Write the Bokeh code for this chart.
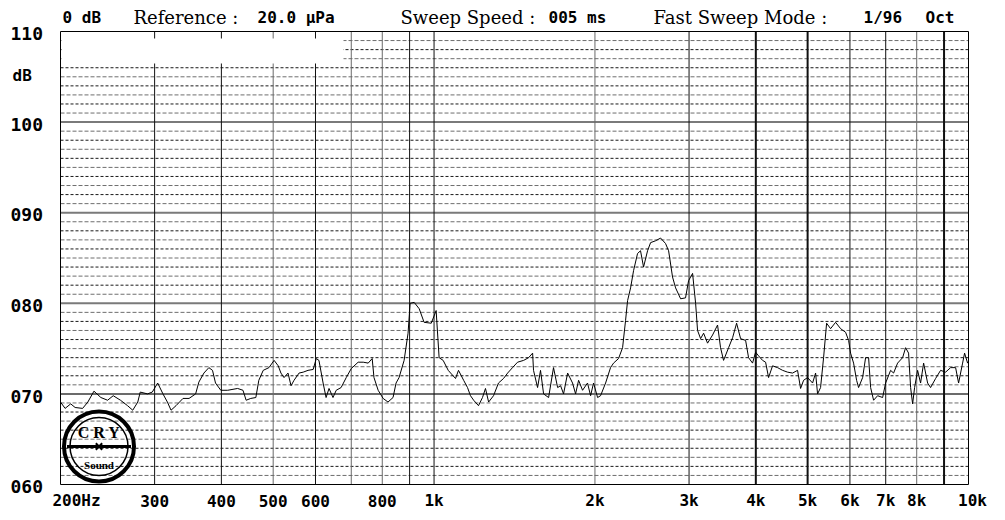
from bokeh.plotting import figure
from bokeh.models import Range1d
from bokeh.core.properties import value
from bokeh.embed import file_html
from bokeh.resources import INLINE

# ---------------- data ----------------
freq_hz = [200, 204, 209, 213, 220, 225, 231, 238, 245, 251, 259, 267, 273, 279, 282, 291, 297,
           304, 311, 317, 322, 329, 339, 348, 358, 363, 371, 379, 385, 390, 399, 411, 429, 439,
           445, 454, 464, 470, 479, 491, 502, 511, 517, 524, 533, 540, 547, 559, 569, 581, 594,
           602, 609, 620, 628, 636, 647, 656, 670, 685, 700, 721, 737, 753, 766, 772, 786, 803,
           820, 838, 849, 860, 879, 894, 902, 918, 938, 958, 988, 1009, 1022, 1040, 1063, 1074,
           1097, 1111, 1136, 1155, 1170, 1186, 1211, 1232, 1248, 1265, 1292, 1320, 1349, 1373,
           1402, 1433, 1471, 1503, 1529, 1535, 1562, 1582, 1603, 1638, 1673, 1703, 1725, 1747,
           1778, 1816, 1840, 1864, 1896, 1937, 1963, 1988, 2023, 2049, 2094, 2139, 2167, 2214,
           2253, 2282, 2302, 2332, 2362, 2403, 2434, 2466, 2509, 2542, 2597, 2654, 2711, 2747,
           2794, 2831, 2893, 2955, 2994, 3046, 3086, 3112, 3153, 3194, 3249, 3320, 3392, 3436,
           3481, 3557, 3619, 3682, 3746, 3828, 3877, 3944, 3996, 4048, 4118, 4172, 4226, 4299,
           4393, 4489, 4586, 4686, 4788, 4851, 4914, 4999, 5108, 5175, 5219, 5287, 5356, 5426,
           5520, 5641, 5763, 5889, 5966, 6017, 6095, 6175, 6228, 6337, 6419, 6503, 6559, 6644,
           6760, 6907, 6997, 7149, 7242, 7368, 7529, 7626, 7725, 7793, 7860, 7928, 8031, 8135,
           8242, 8385, 8493, 8679, 8867, 9061, 9258, 9460, 9582, 9749, 9833, 9961, 10000]
level_db = [69.1, 68.4, 68.9, 68.5, 68.4, 69.1, 70.3, 69.6, 69.3, 69.8, 69.3, 68.7, 68.2, 69.1, 70.2, 70.0, 70.2,
            71.2, 70.0, 69.1, 68.2, 68.7, 69.5, 69.5, 70.0, 71.3, 72.3, 72.9, 72.6, 71.2, 70.4, 70.4, 70.6, 70.4,
            69.3, 69.5, 69.6, 71.5, 72.6, 72.9, 73.7, 73.1, 72.3, 71.8, 72.3, 70.9, 71.5, 72.3, 72.4, 72.6, 72.7,
            73.9, 73.7, 71.2, 69.6, 70.6, 69.6, 70.4, 70.7, 71.8, 72.8, 73.5, 73.5, 73.4, 73.9, 71.8, 70.4, 69.5,
            69.1, 69.6, 71.2, 71.8, 73.7, 76.7, 80.0, 80.1, 79.4, 77.9, 77.8, 79.2, 74.0, 73.7, 72.6, 72.3,
            71.7, 72.6, 71.5, 70.7, 69.8, 69.3, 68.7, 69.6, 70.6, 69.1, 69.8, 71.2, 71.7, 72.3,
            72.9, 73.5, 73.7, 74.0, 74.5, 72.6, 70.7, 72.6, 70.0, 69.6, 72.9, 70.7, 70.9, 70.0,
            72.3, 71.2, 70.0, 71.5, 70.4, 71.2, 69.8, 71.2, 69.6, 69.8, 71.2, 72.9, 73.4, 73.9,
            75.1, 78.1, 80.3, 81.7, 83.6, 85.5, 85.8, 84.0, 85.8, 86.7, 86.9, 87.2, 86.6, 85.8,
            82.9, 81.7, 80.5, 80.6, 82.5, 83.3, 80.0, 77.0, 76.1, 76.7, 75.6, 76.5, 77.6, 75.1,
            73.7, 75.1, 76.2, 77.8, 76.1, 75.9, 74.0, 73.4, 74.6, 74.2, 73.7, 73.5, 71.8, 73.1,
            72.9, 72.6, 72.4, 72.3, 72.6, 70.6, 71.5, 71.8, 71.2, 72.3, 70.0, 70.7, 74.0, 77.8,
            77.2, 77.9, 77.2, 76.8, 75.9, 74.5, 73.4, 71.5, 70.7, 71.8, 74.0, 74.0, 70.7, 69.3,
            69.8, 69.6, 71.2, 72.6, 72.3, 73.4, 74.0, 75.1, 74.5, 70.7, 68.9, 70.7, 72.6, 71.2,
            73.4, 71.2, 70.7, 71.7, 72.6, 72.4, 72.9, 72.9, 71.2, 73.4, 74.5, 73.4, 73.6]

x_ticks = [200, 300, 400, 500, 600, 800, 1000, 2000, 3000, 4000, 5000, 6000, 7000, 8000, 10000]
x_tick_labels = ["200Hz", "300", "400", "500", "600", "800", "1k", "2k", "3k", "4k",
                 "5k", "6k", "7k", "8k", "10k"]
v_grid_freqs = [300, 400, 500, 600, 700, 800, 900, 1000, 2000, 3000, 4000, 5000,
                6000, 7000, 8000, 9000]
y_ticks = [60, 70, 80, 90, 100, 110]
y_tick_labels = ["060", "070", "080", "090", "100", "110"]

F_MIN, F_MAX = 200, 10000
DB_MIN, DB_MAX = 60, 110

# ---------------- layout (picture pixels) ----------------
W, H = 997, 512
FX0, FX1, FY0, FY1 = 60, 968, 31, 484   # where the chart box sits


def px_to_data(X, Y):
    fx = (X - FX0) / (FX1 - FX0)
    fy = (Y - FY0) / (FY1 - FY0)
    return F_MIN * (F_MAX / F_MIN) ** fx, DB_MAX - fy * (DB_MAX - DB_MIN)


x_lo, y_hi = px_to_data(0, 0)
x_hi, y_lo = px_to_data(W, H)

p = figure(width=W, height=H, x_axis_type="log", title=None,
           x_range=Range1d(x_lo, x_hi), y_range=Range1d(y_lo, y_hi),
           min_border_left=0, min_border_right=0, min_border_top=0, min_border_bottom=0,
           toolbar_location=None, output_backend="svg")
p.xaxis.visible = False
p.yaxis.visible = False
p.xgrid.visible = False
p.ygrid.visible = False
p.outline_line_color = None
p.background_fill_color = "white"
p.border_fill_color = "white"

# horizontal grid: 1 dB dashed, 10 dB solid
for d in range(DB_MIN + 1, DB_MAX):
    if d == 70:
        kw = dict(line_color="#3a3a3a", line_width=1.5)
    elif d % 10 == 0:
        kw = dict(line_color="#7a7a7a", line_width=2)
    elif d % 2 == 0:
        kw = dict(line_color="#1a1a1a", line_width=1, line_dash="3 2")
    else:
        kw = dict(line_color="#6e6e6e", line_width=1, line_dash="4 2")
    p.segment(x0=[F_MIN], x1=[F_MAX], y0=[d], y1=[d], **kw)

# vertical grid
dark = {300, 400, 600, 900, 1000, 3000, 4000, 5000, 6000, 7000, 9000}
thick = {4000, 5000, 9000}
for f in v_grid_freqs:
    p.segment(x0=[f], x1=[f], y0=[DB_MIN], y1=[DB_MAX],
              line_color="#111111" if f in dark else "#6a6a6a",
              line_width=2 if f in thick else 1)

# blank box at the top left
bx0, by0 = px_to_data(61, 38)
bx1, by1 = px_to_data(343, 63)
p.quad(left=[bx0], right=[bx1], top=[by0], bottom=[by1], fill_color="white", line_color=None)

# chart frame
p.quad(left=[F_MIN], right=[F_MAX], bottom=[DB_MIN], top=[DB_MAX], fill_alpha=0,
       line_color="black", line_width=1)

# response curve
p.line(freq_hz, level_db, line_color="black", line_width=1)

# logo
lx, ly = px_to_data(98.5, 446)
p.scatter([lx], [ly], marker="circle", size=70, fill_alpha=0, line_color="black", line_width=4)
p.scatter([lx], [ly], marker="circle", size=58, fill_alpha=0, line_color="black", line_width=1.5)
p.scatter([lx], [ly], marker="dash", size=64, line_color="black", line_width=3)
p.scatter([lx], [ly], marker="x", size=9, line_color="black", line_width=2)

MONO = "DejaVu Sans Mono"
SERIF = "DejaVu Serif"


def add_text(X, Y, text, font, size, style="bold", align="left"):
    x, y = px_to_data(X, Y)
    p.text([x], [y], text=[text], text_font=value(font), text_font_size=size,
           text_font_style=style, text_align=align, text_baseline="middle",
           text_color="black")


add_text(98.5, 432, "C R Y", "Liberation Serif", "16px", "bold", "center")
add_text(98.5, 464, "Sound", "Liberation Serif", "11px", "bold", "center")

# header
header = [(62, "0 dB", MONO, "bold"),
          (133, "Reference :", SERIF, "normal"),
          (257, "20.0 \u03bcPa", MONO, "bold"),
          (400, "Sweep Speed :", SERIF, "normal"),
          (548, "005 ms", MONO, "bold"),
          (653, "Fast Sweep Mode :", SERIF, "normal"),
          (863, "1/96", MONO, "bold"),
          (925, "Oct", MONO, "bold")]
for X, t, f, st in header:
    add_text(X, 17, t, f, "18px" if f == SERIF else "16px", st)

# y tick labels
xl, _ = px_to_data(10, 0)
p.text([xl] * len(y_ticks), [v - 0.25 for v in y_ticks], text=y_tick_labels,
       text_font=value(MONO), text_font_size="18px", text_font_style="bold",
       text_align="left", text_baseline="middle", text_color="black")
add_text(12, 75, "dB", MONO, "16px")

# x tick labels
_, ylab = px_to_data(0, 500)
x_off = [16 if t == "200Hz" else (4 if t == "10k" else 0) for t in x_tick_labels]
p.text(x_ticks, [ylab] * len(x_ticks), text=x_tick_labels, x_offset=x_off,
       text_font=value(MONO), text_font_size="16px", text_font_style="bold",
       text_align="center", text_baseline="middle", text_color="black")

open("out.html", "w").write(file_html(p, INLINE))
